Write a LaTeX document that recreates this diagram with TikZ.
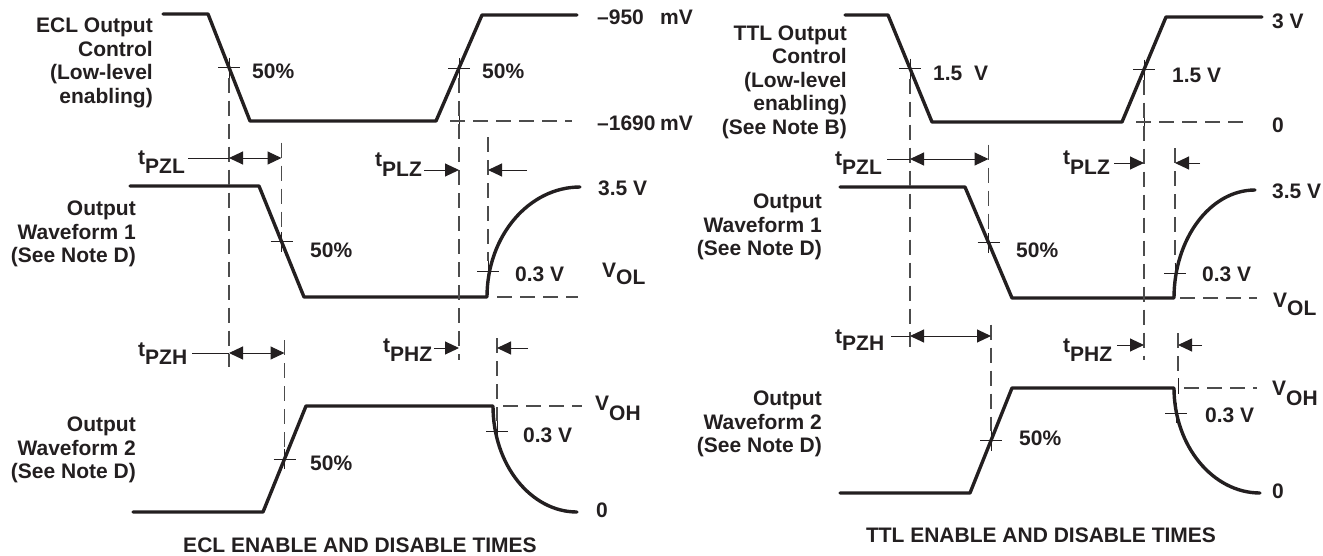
\documentclass[tikz,border=0pt]{standalone}
\usepackage{fontspec}
\setmainfont{Liberation Sans}
\usetikzlibrary{arrows.meta,calc}
\definecolor{ink}{HTML}{231F20}
\newcommand\tmark[1]{\draw[tickline] (#1) ++(-11,0) -- ++(22,0) (#1) ++(0,-10) -- ++(0,20);}
\begin{document}
\begin{tikzpicture}[x=1pt,y=-1pt,
  wave/.style={line width=3.4pt, line join=round, line cap=round, draw=ink},
  guide/.style={line width=1.2pt, draw=black!70, dash pattern=on 15pt off 8pt},
  tickline/.style={line width=1pt, draw=ink},
  dimline/.style={line width=1pt, draw=ink},
  tip/.style={-{Triangle[length=14pt,width=13pt]}},
  dtip/.style={{Triangle[length=14pt,width=13pt]}-{Triangle[length=14pt,width=13pt]}},
  lbl/.style={inner sep=0pt, text=ink, font=\bfseries\fontsize{21}{23.5}\selectfont},
  ttl/.style={inner sep=0pt, text=ink, font=\bfseries\fontsize{21}{25}\selectfont},
]
\useasboundingbox (0,0) rectangle (1323,555);

% ================= ECL =================
\coordinate (e1) at (163,14); \coordinate (e2) at (208,14);
\coordinate (e3) at (250,121); \coordinate (e4) at (436,121);
\coordinate (e5) at (482,15); \coordinate (e6) at (577,15);
\draw[wave] (e1) -- (e2) -- (e3) -- (e4) -- (e5) -- (e6);
\coordinate (ec1) at ($(e2)!0.5!(e3)$);
\coordinate (ec2) at ($(e4)!0.5!(e5)$);
\coordinate (f1) at (130,186); \coordinate (f2) at (259,186);
\coordinate (f3) at (304,297); \coordinate (f4) at (487,297);
\coordinate (f5) at (580,187);
\draw[wave] (f1) -- (f2) -- (f3) -- (f4) .. controls (487,236) and (529,187) .. (f5);
\coordinate (fc1) at ($(f2)!0.5!(f3)$);
\coordinate (fc2) at (488,271);
\coordinate (g1) at (133,512); \coordinate (g2) at (263,512);
\coordinate (g3) at (306,406); \coordinate (g4) at (493,406);
\coordinate (g5) at (577,512);
\draw[wave] (g1) -- (g2) -- (g3) -- (g4) .. controls (493,465) and (531,512) .. (g5);
\coordinate (gc1) at ($(g2)!0.5!(g3)$);
\coordinate (gc2) at (497,431);

\tmark{ec1} \tmark{ec2} \tmark{fc1} \tmark{fc2} \tmark{gc1} \tmark{gc2}
\draw[tickline] (ec2 |- e4) ++(0,-8) -- ++(0,16);
\draw[guide] ($(ec1)+(0,10)$) -- ($(ec1)+(0,299)$);
\draw[guide] ($(fc1)+(0,-99)$) -- ($(fc1)+(0,-10)$);
\draw[guide] ($(ec2)+(0,10)$) -- ($(ec2)+(0,292)$);
\draw[guide] (488,137) -- ($(fc2)+(0,-10)$);
\draw[guide] ($(gc1)+(0,-119)$) -- ($(gc1)+(0,-10)$);
\draw[guide] (497,338) -- ($(gc2)+(0,-10)$);
\draw[guide] (450,121) -- (572,121);
\draw[guide] (497,297) -- (578,297);
\draw[guide] (503,406) -- (582,406);

\node[lbl, anchor=base west] (epzl) at (138,164) {t\raisebox{-9pt}{PZL}};
\coordinate (ea1) at (ec1 |- 0,158); \coordinate (ea2) at (fc1 |- 0,158);
\draw[dimline] (epzl.east |- ea1) ++(3,0) -- (ea1);
\draw[dimline, dtip] (ea1) -- (ea2);

\node[lbl, anchor=base west] (eplz) at (375,166) {t\raisebox{-10pt}{PLZ}};
\coordinate (eb1) at (ec2 |- 0,170); \coordinate (eb2) at (488,170); \coordinate (eb3) at (527,170);
\draw[dimline, tip] (eplz.east |- eb1) ++(2,0) -- (eb1);
\draw[dimline, tip] (eb3) -- (eb2);

\node[lbl, anchor=base west] (epzh) at (138,356) {t\raisebox{-8pt}{PZH}};
\coordinate (ec3) at (ec1 |- 0,353); \coordinate (ec4) at (gc1 |- 0,353);
\draw[dimline] (epzh.east |- ec3) ++(5,0) -- (ec3);
\draw[dimline, dtip] (ec3) -- (ec4);

\node[lbl, anchor=base west] (ephz) at (383,352) {t\raisebox{-9pt}{PHZ}};
\coordinate (ed1) at (ec2 |- 0,348); \coordinate (ed2) at (497,348); \coordinate (ed3) at (528,348);
\draw[dimline, tip] (ephz.east |- ed1) ++(2,0) -- (ed1);
\draw[dimline, tip] (ed3) -- (ed2);

\node[lbl, anchor=east, align=right] (ectl) at (153,63) {ECL Output\\Control\\(Low-level\\enabling)};
\node[lbl, anchor=east, align=right] (eow1) at (136,234) {Output\\Waveform 1\\(See Note D)};
\node[lbl, anchor=east, align=right] (eow2) at (136,450) {Output\\Waveform 2\\(See Note D)};
\node[lbl, anchor=base west] (e950) at (597,24) {\makebox[63pt][l]{–950}mV};
\node[lbl, anchor=base west] (e1690) at (597,130) {\makebox[63pt][l]{–1690}mV};
\node[lbl, anchor=base west] (ep1) at (252,78) {50\%};
\node[lbl, anchor=base west] (ep2) at (482,78) {50\%};
\node[lbl, anchor=base west] (ep3) at (310,257) {50\%};
\node[lbl, anchor=base west] (ep4) at (310,470) {50\%};
\node[lbl, anchor=base west] (e35) at (598,195) {3.5 V};
\node[lbl, anchor=base west] (e03a) at (515,281) {0.3 V};
\node[lbl, anchor=base west] (evol) at (602,277) {V\raisebox{-7pt}{OL}};
\node[lbl, anchor=base west] (evoh) at (595,410) {V\raisebox{-10pt}{OH}};
\node[lbl, anchor=base west] (e03b) at (523,442) {0.3 V};
\node[lbl, anchor=base west] (e0) at (596,517) {0};
\node[ttl] (ettl) at (360,545) {ECL ENABLE AND DISABLE TIMES};

% ================= TTL =================
\coordinate (t1) at (845,15); \coordinate (t2) at (888,15);
\coordinate (t3) at (932,122); \coordinate (t4) at (1122,122);
\coordinate (t5) at (1166,17); \coordinate (t6) at (1262,17);
\draw[wave] (t1) -- (t2) -- (t3) -- (t4) -- (t5) -- (t6);
\coordinate (tc1) at ($(t2)!0.5!(t3)$);
\coordinate (tc2) at ($(t4)!0.5!(t5)$);
\coordinate (u1) at (840,187); \coordinate (u2) at (965,187);
\coordinate (u3) at (1012,298); \coordinate (u4) at (1174,298);
\coordinate (u5) at (1255,190);
\draw[wave] (u1) -- (u2) -- (u3) -- (u4) .. controls (1174,239) and (1210,190) .. (u5);
\coordinate (uc1) at ($(u2)!0.5!(u3)$);
\coordinate (uc2) at (1175,273);
\coordinate (v1) at (840,493); \coordinate (v2) at (970,493);
\coordinate (v3) at (1012,388); \coordinate (v4) at (1174,388);
\coordinate (v5) at (1260,493);
\draw[wave] (v1) -- (v2) -- (v3) -- (v4) .. controls (1174,446) and (1213,493) .. (v5);
\coordinate (vc1) at ($(v2)!0.5!(v3)$);
\coordinate (vc2) at (1176,413);

\tmark{tc1} \tmark{tc2} \tmark{uc1} \tmark{uc2} \tmark{vc1} \tmark{vc2}
\draw[tickline] (tc2 |- t4) ++(0,-8) -- ++(0,16);
\draw[tickline] (1178,378) -- (1178,394);
\draw[guide] ($(tc1)+(0,10)$) -- ($(tc1)+(0,282)$);
\draw[guide] ($(uc1)+(0,-98)$) -- ($(uc1)+(0,-10)$);
\draw[guide] ($(tc2)+(0,10)$) -- ($(tc2)+(0,290)$);
\draw[guide] (1175,148) -- ($(uc2)+(0,-10)$);
\draw[guide] ($(vc1)+(0,-116)$) -- ($(vc1)+(0,-10)$);
\draw[guide] (1178,333) -- (1178,378);
\draw[guide] (1136,122) -- (1250,122);
\draw[guide] (1180,298) -- (1257,298);
\draw[guide] (1184,388) -- (1257,388);

\node[lbl, anchor=base west] (tpzl) at (835,165) {t\raisebox{-9pt}{PZL}};
\coordinate (ta1) at (tc1 |- 0,159); \coordinate (ta2) at (uc1 |- 0,159);
\draw[dimline] (tpzl.east |- ta1) ++(5,0) -- (ta1);
\draw[dimline, dtip] (ta1) -- (ta2);

\node[lbl, anchor=base west] (tplz) at (1063,164) {t\raisebox{-10pt}{PLZ}};
\coordinate (tb1) at (tc2 |- 0,163); \coordinate (tb2) at (1175,163); \coordinate (tb3) at (1200,163);
\draw[dimline, tip] (tplz.east |- tb1) ++(4,0) -- (tb1);
\draw[dimline, tip] (tb3) -- (tb2);

\node[lbl, anchor=base west] (tpzh) at (835,343) {t\raisebox{-7pt}{PZH}};
\coordinate (tc3) at (tc1 |- 0,336); \coordinate (tc4) at (vc1 |- 0,336);
\draw[dimline] (tpzh.east |- tc3) ++(7,0) -- (tc3);
\draw[dimline, dtip] (tc3) -- (tc4);

\node[lbl, anchor=base west] (tphz) at (1063,352) {t\raisebox{-9pt}{PHZ}};
\coordinate (td1) at (tc2 |- 0,345); \coordinate (td2) at (1178,345); \coordinate (td3) at (1202,345);
\draw[dimline, tip] (tphz.east |- td1) ++(5,0) -- (td1);
\draw[dimline, tip] (td3) -- (td2);

\node[lbl, anchor=east, align=right] (tctl) at (847,82) {TTL Output\\Control\\(Low-level\\enabling)\\(See Note B)};
\node[lbl, anchor=east, align=right] (tow1) at (822,227) {Output\\Waveform 1\\(See Note D)};
\node[lbl, anchor=east, align=right] (tow2) at (822,424) {Output\\Waveform 2\\(See Note D)};
\node[lbl, anchor=base west] (t3v) at (1272,28) {3 V};
\node[lbl, anchor=base west] (t0a) at (1272,132) {0};
\node[lbl, anchor=base west] (t15a) at (933,80) {1.5\ \ V};
\node[lbl, anchor=base west] (t15b) at (1172,82) {1.5 V};
\node[lbl, anchor=base west] (t35) at (1272,198) {3.5 V};
\node[lbl, anchor=base west] (tp1) at (1016,257) {50\%};
\node[lbl, anchor=base west] (t03a) at (1202,281) {0.3 V};
\node[lbl, anchor=base west] (tvol) at (1273,307) {V\raisebox{-8pt}{OL}};
\node[lbl, anchor=base west] (tvoh) at (1272,395) {V\raisebox{-10pt}{OH}};
\node[lbl, anchor=base west] (t03b) at (1205,422) {0.3 V};
\node[lbl, anchor=base west] (tp2) at (1019,445) {50\%};
\node[lbl, anchor=base west] (t0b) at (1272,498) {0};
\node[ttl] (tttl) at (1041,535) {TTL ENABLE AND DISABLE TIMES};
\end{tikzpicture}
\end{document}
